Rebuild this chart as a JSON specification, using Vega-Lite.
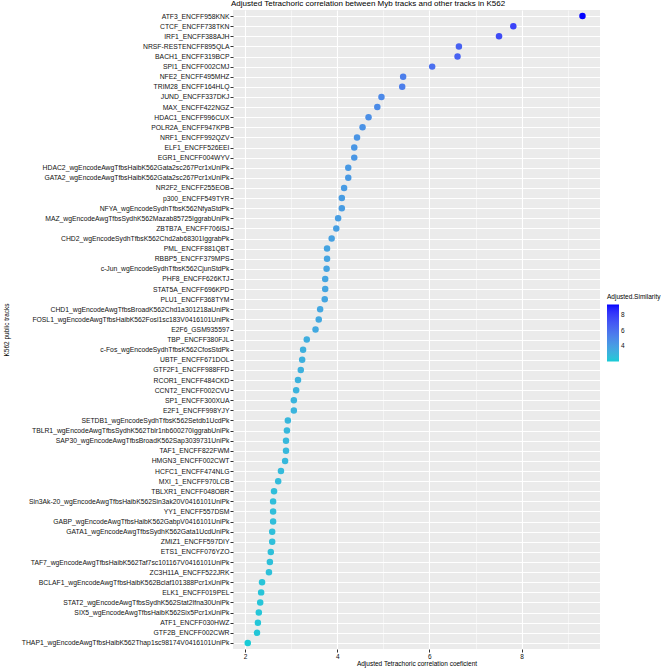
{
  "$schema": "https://vega.github.io/schema/vega-lite/v6.json",
  "autosize": "none",
  "width": 367,
  "height": 639,
  "padding": {"left": 233, "top": 10, "right": 68, "bottom": 19},
  "background": "white",
  "title": {
    "text": "Adjusted Tetrachoric correlation between Myb tracks and other tracks in K562",
    "anchor": "start",
    "frame": "group",
    "offset": 2,
    "dx": -2,
    "fontSize": 8,
    "fontWeight": "normal",
    "font": "Liberation Sans",
    "color": "#000000"
  },
  "data": {
    "values": [
      {"track": "ATF3_ENCFF958KNK", "coef": 9.32},
      {"track": "CTCF_ENCFF738TKN", "coef": 7.82},
      {"track": "IRF1_ENCFF388AJH", "coef": 7.51},
      {"track": "NRSF-RESTENCFF895QLA", "coef": 6.64},
      {"track": "BACH1_ENCFF319BCP", "coef": 6.61},
      {"track": "SPI1_ENCFF002CMJ", "coef": 6.06},
      {"track": "NFE2_ENCFF495MHZ", "coef": 5.43},
      {"track": "TRIM28_ENCFF164HLQ", "coef": 5.41},
      {"track": "JUND_ENCFF337DKJ", "coef": 4.96},
      {"track": "MAX_ENCFF422NGZ", "coef": 4.87},
      {"track": "HDAC1_ENCFF996CUX", "coef": 4.68},
      {"track": "POLR2A_ENCFF947KPB", "coef": 4.55},
      {"track": "NRF1_ENCFF992QZV", "coef": 4.43},
      {"track": "ELF1_ENCFF526EEI", "coef": 4.37},
      {"track": "EGR1_ENCFF004WYV", "coef": 4.37},
      {"track": "HDAC2_wgEncodeAwgTfbsHaibK562Gata2sc267Pcr1xUniPk", "coef": 4.24},
      {"track": "GATA2_wgEncodeAwgTfbsHaibK562Gata2sc267Pcr1xUniPk", "coef": 4.24},
      {"track": "NR2F2_ENCFF255EOB", "coef": 4.15},
      {"track": "p300_ENCFF549TYR", "coef": 4.10},
      {"track": "NFYA_wgEncodeSydhTfbsK562NfyaStdPk", "coef": 4.10},
      {"track": "MAZ_wgEncodeAwgTfbsSydhK562Mazab85725IggrabUniPk", "coef": 4.02},
      {"track": "ZBTB7A_ENCFF706ISJ", "coef": 3.98},
      {"track": "CHD2_wgEncodeSydhTfbsK562Chd2ab68301IggrabPk", "coef": 3.88},
      {"track": "PML_ENCFF881QBT", "coef": 3.78},
      {"track": "RBBP5_ENCFF379MPS", "coef": 3.78},
      {"track": "c-Jun_wgEncodeSydhTfbsK562CjunStdPk", "coef": 3.77},
      {"track": "PHF8_ENCFF626KTJ", "coef": 3.74},
      {"track": "STAT5A_ENCFF696KPD", "coef": 3.74},
      {"track": "PLU1_ENCFF368TYM", "coef": 3.73},
      {"track": "CHD1_wgEncodeAwgTfbsBroadK562Chd1a301218aUniPk", "coef": 3.63},
      {"track": "FOSL1_wgEncodeAwgTfbsHaibK562Fosl1sc183V0416101UniPk", "coef": 3.60},
      {"track": "E2F6_GSM935597", "coef": 3.53},
      {"track": "TBP_ENCFF380FJL", "coef": 3.34},
      {"track": "c-Fos_wgEncodeSydhTfbsK562CfosStdPk", "coef": 3.26},
      {"track": "UBTF_ENCFF671DOL", "coef": 3.24},
      {"track": "GTF2F1_ENCFF988FFD", "coef": 3.21},
      {"track": "RCOR1_ENCFF484CKD", "coef": 3.15},
      {"track": "CCNT2_ENCFF002CVU", "coef": 3.11},
      {"track": "SP1_ENCFF300XUA", "coef": 3.06},
      {"track": "E2F1_ENCFF998YJY", "coef": 3.06},
      {"track": "SETDB1_wgEncodeSydhTfbsK562Setdb1UcdPk", "coef": 2.93},
      {"track": "TBLR1_wgEncodeAwgTfbsSydhK562Tblr1nb600270IggrabUniPk", "coef": 2.91},
      {"track": "SAP30_wgEncodeAwgTfbsBroadK562Sap3039731UniPk", "coef": 2.89},
      {"track": "TAF1_ENCFF822FWM", "coef": 2.89},
      {"track": "HMGN3_ENCFF002CWT", "coef": 2.87},
      {"track": "HCFC1_ENCFF474NLG", "coef": 2.78},
      {"track": "MXI_1_ENCFF970LCB", "coef": 2.72},
      {"track": "TBLXR1_ENCFF048OBR", "coef": 2.63},
      {"track": "Sin3Ak-20_wgEncodeAwgTfbsHaibK562Sin3ak20V0416101UniPk", "coef": 2.61},
      {"track": "YY1_ENCFF557DSM", "coef": 2.61},
      {"track": "GABP_wgEncodeAwgTfbsHaibK562GabpV0416101UniPk", "coef": 2.61},
      {"track": "GATA1_wgEncodeAwgTfbsSydhK562Gata1UcdUniPk", "coef": 2.59},
      {"track": "ZMIZ1_ENCFF597DIY", "coef": 2.59},
      {"track": "ETS1_ENCFF076YZO", "coef": 2.56},
      {"track": "TAF7_wgEncodeAwgTfbsHaibK562Taf7sc101167V0416101UniPk", "coef": 2.54},
      {"track": "ZC3H11A_ENCFF522JRK", "coef": 2.52},
      {"track": "BCLAF1_wgEncodeAwgTfbsHaibK562Bclaf101388Pcr1xUniPk", "coef": 2.37},
      {"track": "ELK1_ENCFF019PEL", "coef": 2.35},
      {"track": "STAT2_wgEncodeAwgTfbsSydhK562Stat2Ifna30UniPk", "coef": 2.33},
      {"track": "SIX5_wgEncodeAwgTfbsHaibK562Six5Pcr1xUniPk", "coef": 2.30},
      {"track": "ATF1_ENCFF030HWZ", "coef": 2.28},
      {"track": "GTF2B_ENCFF002CWR", "coef": 2.26},
      {"track": "THAP1_wgEncodeAwgTfbsHaibK562Thap1sc98174V0416101UniPk", "coef": 2.06}
    ]
  },
  "mark": {"type": "point", "filled": true, "opacity": 1, "size": 42},
  "encoding": {
    "x": {
      "field": "coef",
      "type": "quantitative",
      "scale": {"domain": [1.74, 9.7], "nice": false, "zero": false},
      "axis": {
        "title": "Adjusted Tetrachoric correlation coeficient",
        "values": [2, 3, 4, 5, 6, 7, 8, 9],
        "labelExpr": "datum.value % 2 == 0 ? datum.label : ''",
        "grid": true,
        "gridColor": "#FFFFFF",
        "gridWidth": {"condition": {"test": "datum.value % 2 == 0", "value": 1.1}, "value": 0.5},
        "tickOpacity": {"condition": {"test": "datum.value % 2 == 0", "value": 1}, "value": 0},
        "tickColor": "#333333",
        "tickSize": 3,
        "domain": false,
        "labelFontSize": 6.5,
        "labelColor": "#111111",
        "labelPadding": 1,
        "titleFontSize": 6.5,
        "titleFontWeight": "normal",
        "titleColor": "#000000",
        "titlePadding": 1
      }
    },
    "y": {
      "field": "track",
      "type": "nominal",
      "sort": null,
      "scale": {"type": "point", "padding": 0.6},
      "axis": {
        "title": "K562 public tracks",
        "titleX": -224,
        "grid": true,
        "gridColor": "#FFFFFF",
        "gridWidth": 1.1,
        "tickColor": "#333333",
        "tickSize": 3,
        "domain": false,
        "labelFontSize": 6.8,
        "labelColor": "#111111",
        "labelPadding": 1,
        "labelLimit": 0,
        "titleFontSize": 6.5,
        "titleFontWeight": "normal",
        "titleColor": "#000000"
      }
    },
    "color": {
      "field": "coef",
      "type": "quantitative",
      "scale": {"range": ["#17CBD6", "#0000FF"], "interpolate": "lab", "domain": [2.06, 9.32]},
      "legend": {
        "title": "Adjusted.Similarity",
        "orient": "none",
        "legendX": 374,
        "legendY": 284,
        "direction": "vertical",
        "values": [4, 6, 8],
        "gradientLength": 57,
        "gradientThickness": 12,
        "gradientStrokeWidth": 0,
        "titleFontSize": 6.5,
        "titleFontWeight": "normal",
        "titleColor": "#000000",
        "labelFontSize": 6.5,
        "labelColor": "#111111",
        "titlePadding": 4
      }
    }
  },
  "config": {
    "font": "Liberation Sans",
    "view": {"fill": "#EBEBEB", "stroke": null}
  }
}
